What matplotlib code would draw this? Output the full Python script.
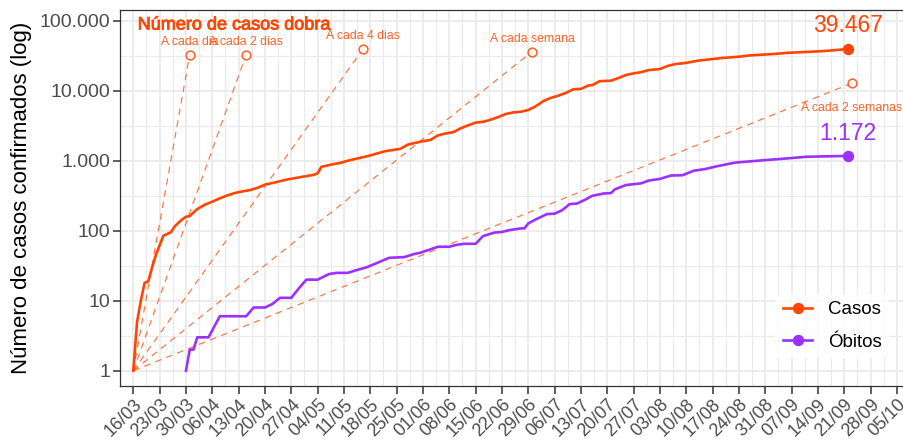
import matplotlib
matplotlib.use("Agg")
import matplotlib.pyplot as plt
import numpy as np
import pandas as pd
from matplotlib.lines import Line2D
import matplotlib.patheffects as pe

plt.rcParams['font.family'] = ['Liberation Sans', 'DejaVu Sans']

# ---------------- data ----------------
inicio = "2020-03-16"
dias_casos = [0, 1, 2, 3, 4, 5, 6, 7, 8, 9, 10, 11, 12, 13, 14, 15, 17, 19, 21, 23, 25, 27, 29,
              31, 33, 35, 37, 39, 41, 43, 45, 47, 48, 49, 50, 51, 53, 55, 57, 59, 61, 63, 65,
              67, 69, 71, 73, 75, 77, 79, 81, 83, 85, 87, 89, 91, 93, 95, 97, 99, 101, 103,
              105, 107, 109, 111, 113, 115, 117, 119, 121, 122, 124, 127, 129, 131, 133, 135,
              137, 140, 142, 144, 147, 150, 153, 157, 161, 164, 170, 174, 179, 184, 190]
casos = [1, 5, 10, 18, 19, 30, 45, 62, 85, 90, 95, 115, 130, 145, 158, 162, 204, 235, 260,
         290, 320, 346, 365, 380, 410, 455, 480, 510, 540, 565, 590, 615, 630, 660, 820, 840,
         890, 930, 1000, 1060, 1120, 1190, 1280, 1370, 1420, 1480, 1700, 1800, 1900, 1980,
         2300, 2450, 2550, 2900, 3200, 3500, 3600, 3850, 4200, 4650, 4900, 5000, 5300, 6000,
         7100, 7900, 8500, 9300, 10500, 10600, 11900, 12000, 13700, 13900, 15200, 16800,
         17700, 18400, 19700, 20400, 22500, 24000, 25000, 26800, 28000, 29500, 30600, 32000,
         33400, 34800, 35800, 37000, 39467]

dias_obitos = [14, 15, 16, 17, 20, 23, 30, 32, 35, 37, 39, 42, 44, 46, 49, 52, 54, 57, 59,
               62, 65, 68, 72, 75, 76, 78, 81, 84, 86, 88, 91, 93, 96, 98, 100, 103, 104, 105,
               107, 110, 112, 114, 116, 118, 120, 122, 125, 127, 128, 131, 135, 137, 140, 143,
               146, 149, 152, 155, 160, 166, 173, 179, 190]
obitos = [1, 2, 2, 3, 3, 6, 6, 8, 8, 9, 11, 11, 15, 20, 20, 24, 25, 25, 27, 30, 35, 41, 42,
          47, 48, 52, 59, 59, 63, 65, 65, 84, 94, 96, 102, 108, 108, 127, 145, 173, 175, 196,
          240, 245, 275, 315, 340, 345, 390, 450, 475, 520, 550, 615, 620, 720, 760, 830,
          940, 1000, 1070, 1140, 1172]

ref_periodos = [1, 2, 4, 7, 14]
ref_dias_fim = [15, 30, 61, 106, 191]
ref_rotulos = ["A cada dia", "A cada 2 dias", "A cada 4 dias", "A cada semana", "A cada 2 semanas"]

y_ticks = [1, 10, 100, 1000, 10000, 100000]
y_rotulos = ["1", "10", "100", "1.000", "10.000", "100.000"]

rotulo_casos = "39.467"
rotulo_obitos = "1.172"

# ---------------- styling ----------------
LARANJA = "#FF4500"
ROXO = "#9B30FF"
GRID = "#EBEBEB"
EIXO = "#333333"
TXT = "#4D4D4D"

W, H = 904, 441
fig = plt.figure(figsize=(W / 100, H / 100), dpi=100)
ax = fig.add_axes([120 / W, (H - 385.7) / H, 784 / W, (385.7 - 10.3) / H])

start = pd.Timestamp(inicio)


def d2t(days):
    return start + pd.to_timedelta(np.asarray(days, dtype=float), unit="D")


ax.set_yscale("log")

# grid / ticks
major_x = pd.date_range("2020-03-16", "2020-10-05", freq="7D")
minor_x = pd.date_range("2020-03-09", "2020-10-20", freq="84h")
ax.set_xticks(major_x)
ax.set_xticklabels([d.strftime("%d/%m") for d in major_x])
ax.set_xticks(minor_x, minor=True)
ax.set_yticks(y_ticks)
ax.set_yticklabels(y_rotulos)
ax.set_yticks([10 ** (k + 0.5) for k in range(-1, 6)], minor=True)
ax.yaxis.set_minor_formatter(matplotlib.ticker.NullFormatter())
ax.grid(which="major", color=GRID, lw=1.3, zorder=0)
ax.grid(which="minor", color=GRID, lw=0.9, zorder=0)
ax.set_axisbelow(True)

ax.tick_params(which="minor", length=0)
ax.tick_params(which="major", length=5.4, width=1.1, color=EIXO, labelcolor=TXT)
ax.tick_params(axis="y", labelsize=14, pad=1.8)
ax.tick_params(axis="x", labelsize=13, pad=2)
for lab in ax.get_xticklabels():
    lab.set_rotation(45)
    lab.set_ha("right")
    lab.set_va("top")
    lab.set_rotation_mode("anchor")

for s in ["left", "bottom", "top"]:
    ax.spines[s].set_color(EIXO)
    ax.spines[s].set_linewidth(0.9)
ax.spines["right"].set_visible(False)

# reference doubling lines
for per, dfim, rot in zip(ref_periodos, ref_dias_fim, ref_rotulos):
    yfim = 2 ** (dfim / per)
    ax.plot(d2t([0, dfim]), [1, yfim], color=LARANJA, alpha=0.75, lw=0.85,
            ls=(0, (5.5, 4.5)), zorder=2)
    ax.plot(d2t([dfim]), [yfim], marker="o", ms=6.3, mfc="white", mec=LARANJA,
            mew=1.1, alpha=0.85, zorder=3)
    dy = -17.5 if per == 14 else 9.4
    ax.annotate(rot, (d2t([dfim])[0], yfim), xytext=(0, dy), textcoords="offset points",
                ha="center", va="center", fontsize=8.8, color=LARANJA, alpha=0.85, zorder=4)

# series
ax.plot(d2t(dias_casos), casos, color=LARANJA, lw=1.9, zorder=5, solid_joinstyle="round")
ax.plot(d2t(dias_obitos), obitos, color=ROXO, lw=1.9, zorder=5, solid_joinstyle="round")
ax.plot(d2t([dias_casos[-1]]), [casos[-1]], "o", color=LARANJA, ms=7.2, zorder=6)
ax.plot(d2t([dias_obitos[-1]]), [obitos[-1]], "o", color=ROXO, ms=7.2, zorder=6)
ax.annotate(rotulo_casos, (d2t([dias_casos[-1]])[0], casos[-1]), xytext=(0, 17),
            textcoords="offset points", ha="center", va="center", fontsize=16.5, color=LARANJA)
ax.annotate(rotulo_obitos, (d2t([dias_obitos[-1]])[0], obitos[-1]), xytext=(0, 16),
            textcoords="offset points", ha="center", va="center", fontsize=16.5, color=ROXO)

# title inside
ax.text((137.7 - 120) / 784, (385.7 - 25) / 375.4, "Número de casos dobra",
        transform=ax.transAxes, ha="left", va="center", fontsize=13, color=LARANJA,
        path_effects=[pe.withStroke(linewidth=0.6, foreground=LARANJA)], zorder=7)

# y label
fig.text(22 / W, 1 - 198 / H, "Número de casos confirmados (log)", rotation=90,
         ha="center", va="center", fontsize=16, color="black")

# legend
handles = [Line2D([], [], color=LARANJA, lw=1.9, marker="o", ms=7.2),
           Line2D([], [], color=ROXO, lw=1.9, marker="o", ms=7.2)]
leg = ax.legend(handles, ["Casos", "Óbitos"], loc="upper left",
                bbox_to_anchor=(775.5 / W, 1 - 293.8 / H), bbox_transform=fig.transFigure,
                frameon=True, fontsize=13.5, handlelength=1.55, handletextpad=0.85,
                labelspacing=0.8, borderpad=0.4, borderaxespad=0)
leg.get_frame().set_facecolor("white")
leg.get_frame().set_edgecolor("none")
leg.get_frame().set_boxstyle("square", pad=0)

# limits last (set_xticks/set_yticks can widen them)
ax.set_ylim(10 ** -0.214, 10 ** 5.149)
ax.set_xlim(d2t([-3.54])[0], d2t([204.9])[0])

fig.savefig("out.png", dpi=100)
